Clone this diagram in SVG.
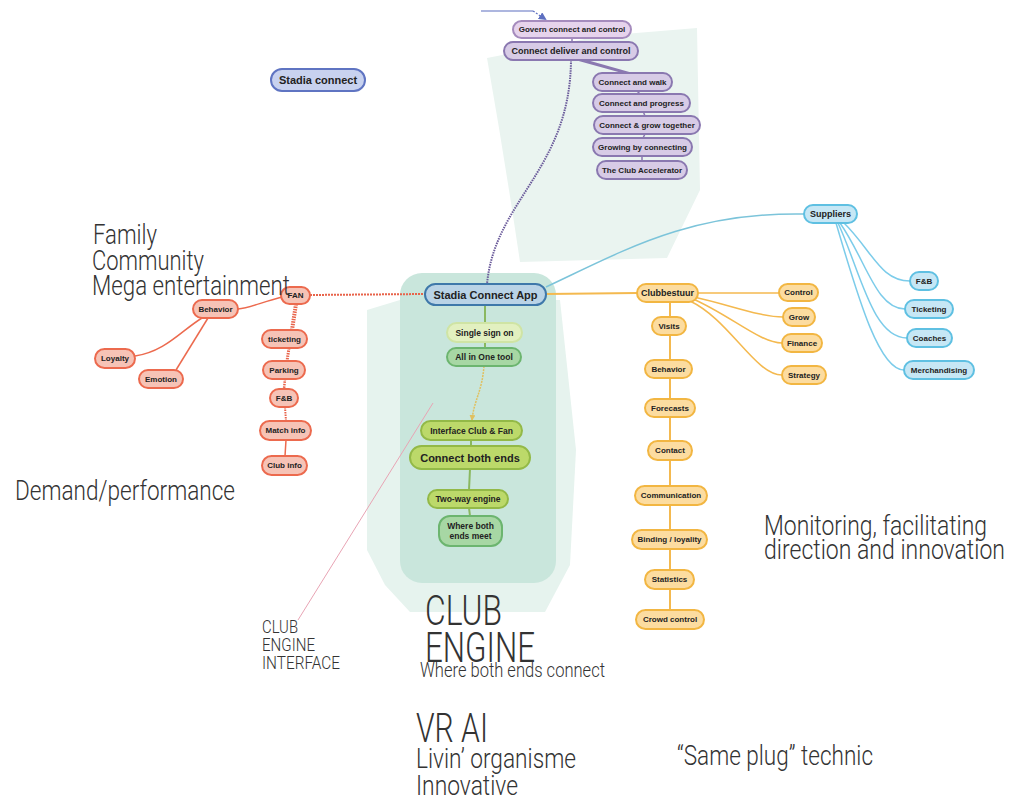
<svg xmlns="http://www.w3.org/2000/svg" width="1024" height="812" viewBox="0 0 1024 812">
<defs>
<marker id="arrY" markerWidth="6" markerHeight="6" refX="5" refY="3" orient="auto" markerUnits="userSpaceOnUse"><path d="M0,0 L6,3 L0,6 Z" fill="#e0c060"/></marker>
<marker id="arrB" markerWidth="8" markerHeight="8" refX="6" refY="4" orient="auto" markerUnits="userSpaceOnUse"><path d="M0,0 L8,4 L0,8 Z" fill="#5d6fc0"/></marker>
</defs>
<style>
.n rect{stroke-width:2}
.n text{font-family:"Liberation Sans",Arial,sans-serif;font-weight:bold;font-size:8.5px;fill:#222;text-anchor:middle;dominant-baseline:central}
.pu rect{fill:#d7cbe6;stroke:#8a78b0}
.pg rect{fill:#e6d3ec;stroke:#a58bbd}
.bl rect{fill:#c8d2ef;stroke:#5f74c2}
.ap rect{fill:#b9d3e6;stroke:#3e78aa}
.ly rect{fill:#e2f0c0;stroke:#cfe4a4}
.gr rect{fill:#a7d7a4;stroke:#6cb56f}
.yg rect{fill:#bcd96a;stroke:#93b947}
.rd rect{fill:#f6c3b6;stroke:#ec6a4e}
.or rect{fill:#fcdca0;stroke:#f2b642}
.lb rect{fill:#c6e7f5;stroke:#5fc0e2}
.lbl{font-family:Roboto,"Liberation Sans",sans-serif;font-weight:300;fill:#333}
.c{fill:none}
</style>
<rect width="1024" height="812" fill="#ffffff"/>
<g id="backgrounds">
<path d="M487,58 L600,36 L697,28 L700,190 L667,258 L520,262 Q505,160 487,58 Z" fill="#eaf4f0"/>
<path d="M367,310 L400,300 L560,300 L576,450 L570,565 L545,612 L410,612 L385,585 L367,550 Z" fill="#e6f3ee"/>
<rect x="400" y="273" width="156" height="310" rx="22" fill="#c9e6dc"/>
</g>
<g id="connectors" class="c">
<path d="M481,11 L533,11" stroke="#5d6fc0" stroke-width="1.2"/>
<path d="M533,11 L545,19" stroke="#5d6fc0" stroke-width="1.2" stroke-dasharray="2,1.5" marker-end="url(#arrB)"/>
<path d="M572,38 L572,42" stroke="#8a78b0" stroke-width="1.5"/>
<path d="M578,60 L625,73 M584,60 L630,73" stroke="#8a78b0" stroke-width="1.5"/>
<path d="M637,91 L640,94 M643,111 L645,116 M645,134 L643,138 M642,156 L642,161" stroke="#8a78b0" stroke-width="1.5"/>
<path d="M571,60 C 570,170 495,200 487,284" stroke="#6a5a9a" stroke-width="2" stroke-dasharray="1.5,1"/>
<path d="M546,287 C 625,250 690,212 804,214" stroke="#7cc4da" stroke-width="1.5"/>
<path d="M546,294 L637,293" stroke="#f4b94f" stroke-width="2"/>
<path d="M310,295 L425,294" stroke="#e8634a" stroke-width="2" stroke-dasharray="2,1"/>
<path d="M282,297 C 262,302 250,308 238,309" stroke="#ec6a4e" stroke-width="1.5"/>
<path d="M202,318 C 182,330 165,352 135,356" stroke="#ec6a4e" stroke-width="1.5"/>
<path d="M208,318 L176,370" stroke="#ec6a4e" stroke-width="1.5"/>
<path d="M296,304 L292,330" stroke="#e8634a" stroke-width="4" stroke-dasharray="1.5,1"/>
<path d="M289,348 L287,361" stroke="#e8634a" stroke-width="3" stroke-dasharray="1.5,1"/>
<path d="M285,379 L284,389" stroke="#e8634a" stroke-width="2.5" stroke-dasharray="1.5,1"/>
<path d="M285,407 L286,421" stroke="#e8634a" stroke-width="2" stroke-dasharray="1.5,1"/>
<path d="M286,440 L285,456" stroke="#ec6a4e" stroke-width="1.5"/>
<path d="M485,305 L485,323 M485,342 L485,348" stroke="#8ab860" stroke-width="2"/>
<path d="M484,366 C 482,392 474,400 472,420" stroke="#e0c060" stroke-width="1.5" stroke-dasharray="2,1" marker-end="url(#arrY)"/>
<path d="M471,440 L471,446 M470,469 L469,490 M469,508 L470,516" stroke="#8ab860" stroke-width="2"/>
<path d="M433,403 L298,620" stroke="#e8a4b4" stroke-width="1"/>
<path d="M698,293 L779,293" stroke="#f4b94f" stroke-width="1.5"/>
<path d="M694,297 C 730,305 760,317 783,317" stroke="#f4b94f" stroke-width="1.5"/>
<path d="M693,299 C 730,315 760,343 782,343" stroke="#f4b94f" stroke-width="1.5"/>
<path d="M690,301 C 730,320 755,375 782,375" stroke="#f4b94f" stroke-width="1.5"/>
<path d="M670,302 L670,610" stroke="#f4b94f" stroke-width="2"/>
<path d="M843,222 C 872,250 880,281 910,281" stroke="#7cccea" stroke-width="1.5"/>
<path d="M840,223 C 866,260 876,309 905,309" stroke="#7cccea" stroke-width="1.5"/>
<path d="M838,223 C 860,270 872,338 907,338" stroke="#7cccea" stroke-width="1.5"/>
<path d="M836,223 C 856,290 878,370 904,370" stroke="#7cccea" stroke-width="1.5"/>
</g>
<g id="n-govern" class="n pg"><rect x="513" y="21" width="118" height="17" rx="8.5"/><text x="572" y="29.5" style="font-size:8px">Govern connect and control</text></g>
<g id="n-deliver" class="n pu"><rect x="504" y="42" width="134" height="18" rx="9"/><text x="571" y="51" style="font-size:9px">Connect deliver and control</text></g>
<g id="n-walk" class="n pu"><rect x="593" y="73" width="79" height="18" rx="9"/><text x="632.5" y="82" style="font-size:8px">Connect and walk</text></g>
<g id="n-progress" class="n pu"><rect x="593" y="94" width="97" height="18" rx="9"/><text x="641.5" y="103" style="font-size:8px">Connect and progress</text></g>
<g id="n-grow-together" class="n pu"><rect x="594" y="116" width="106" height="18" rx="9"/><text x="647" y="125" style="font-size:8px">Connect &amp; grow together</text></g>
<g id="n-growing" class="n pu"><rect x="593" y="138" width="99" height="18" rx="9"/><text x="642.5" y="147" style="font-size:8px">Growing by connecting</text></g>
<g id="n-accelerator" class="n pu"><rect x="597" y="161" width="90" height="18" rx="9"/><text x="642" y="170" style="font-size:8px">The Club Accelerator</text></g>
<g id="n-stadia-connect" class="n bl"><rect x="271" y="69" width="94" height="22" rx="11"/><text x="318" y="80" style="font-size:11px">Stadia connect</text></g>
<g id="n-app" class="n ap"><rect x="425" y="284" width="121" height="21" rx="10.5"/><text x="485.5" y="294.5" style="font-size:11px">Stadia Connect App</text></g>
<g id="n-sso" class="n ly"><rect x="447" y="323" width="75" height="19" rx="9.5"/><text x="484.5" y="332.5">Single sign on</text></g>
<g id="n-aio" class="n gr"><rect x="447" y="348" width="74" height="18" rx="9"/><text x="484" y="357">All in One tool</text></g>
<g id="n-interface" class="n yg"><rect x="421" y="421" width="101" height="19" rx="9.5"/><text x="471.5" y="430.5">Interface Club &amp; Fan</text></g>
<g id="n-both-ends" class="n yg"><rect x="410" y="446" width="120" height="23" rx="11.5"/><text x="470" y="457.5" style="font-size:11px">Connect both ends</text></g>
<g id="n-two-way" class="n yg"><rect x="428" y="490" width="80" height="18" rx="9"/><text x="468" y="499">Two-way engine</text></g>
<g id="n-meet" class="n gr"><rect x="439" y="516" width="63" height="30" rx="11"/><text x="470.5" y="526">Where both</text><text x="470.5" y="536">ends meet</text></g>
<g id="n-fan" class="n rd"><rect x="281" y="287" width="29" height="17" rx="8.5"/><text x="295.5" y="295.5" style="font-size:8px">FAN</text></g>
<g id="n-behavior-fan" class="n rd"><rect x="193" y="300" width="45" height="18" rx="9"/><text x="215.5" y="309" style="font-size:8px">Behavior</text></g>
<g id="n-loyalty" class="n rd"><rect x="95" y="349" width="40" height="19" rx="9.5"/><text x="115" y="358.5" style="font-size:8px">Loyalty</text></g>
<g id="n-emotion" class="n rd"><rect x="139" y="370" width="44" height="18" rx="9"/><text x="161" y="379" style="font-size:8px">Emotion</text></g>
<g id="n-ticketing-fan" class="n rd"><rect x="262" y="330" width="45" height="18" rx="9"/><text x="284.5" y="339" style="font-size:8px">ticketing</text></g>
<g id="n-parking" class="n rd"><rect x="263" y="361" width="42" height="18" rx="9"/><text x="284" y="370" style="font-size:8px">Parking</text></g>
<g id="n-fb-fan" class="n rd"><rect x="270" y="389" width="28" height="18" rx="9"/><text x="284" y="398" style="font-size:8px">F&amp;B</text></g>
<g id="n-match" class="n rd"><rect x="260" y="421" width="51" height="19" rx="9.5"/><text x="285.5" y="430.5" style="font-size:8px">Match info</text></g>
<g id="n-club-info" class="n rd"><rect x="262" y="456" width="45" height="19" rx="9.5"/><text x="284.5" y="465.5" style="font-size:8px">Club info</text></g>
<g id="n-clubbestuur" class="n or"><rect x="637" y="284" width="61" height="18" rx="9"/><text x="667.5" y="293" style="font-size:9px">Clubbestuur</text></g>
<g id="n-control" class="n or"><rect x="779" y="284" width="39" height="17" rx="8.5"/><text x="798.5" y="292.5" style="font-size:8px">Control</text></g>
<g id="n-grow" class="n or"><rect x="783" y="308" width="32" height="18" rx="9"/><text x="799" y="317" style="font-size:8px">Grow</text></g>
<g id="n-finance" class="n or"><rect x="782" y="334" width="40" height="18" rx="9"/><text x="802" y="343" style="font-size:8px">Finance</text></g>
<g id="n-strategy" class="n or"><rect x="782" y="366" width="44" height="18" rx="9"/><text x="804" y="375" style="font-size:8px">Strategy</text></g>
<g id="n-visits" class="n or"><rect x="652" y="317" width="34" height="18" rx="9"/><text x="669" y="326" style="font-size:8px">Visits</text></g>
<g id="n-behavior-club" class="n or"><rect x="645" y="360" width="47" height="18" rx="9"/><text x="668.5" y="369" style="font-size:8px">Behavior</text></g>
<g id="n-forecasts" class="n or"><rect x="645" y="399" width="50" height="18" rx="9"/><text x="670" y="408" style="font-size:8px">Forecasts</text></g>
<g id="n-contact" class="n or"><rect x="648" y="441" width="44" height="19" rx="9.5"/><text x="670" y="450.5" style="font-size:8px">Contact</text></g>
<g id="n-communication" class="n or"><rect x="635" y="486" width="72" height="19" rx="9.5"/><text x="671" y="495.5" style="font-size:8px">Communication</text></g>
<g id="n-binding" class="n or"><rect x="632" y="530" width="75" height="19" rx="9.5"/><text x="669.5" y="539.5" style="font-size:8px">Binding / loyality</text></g>
<g id="n-statistics" class="n or"><rect x="645" y="570" width="49" height="19" rx="9.5"/><text x="669.5" y="579.5" style="font-size:8px">Statistics</text></g>
<g id="n-crowd" class="n or"><rect x="636" y="610" width="68" height="19" rx="9.5"/><text x="670" y="619.5" style="font-size:8px">Crowd control</text></g>
<g id="n-suppliers" class="n lb"><rect x="804" y="205" width="53" height="18" rx="9"/><text x="830.5" y="214" style="font-size:9px">Suppliers</text></g>
<g id="n-fb-sup" class="n lb"><rect x="910" y="272" width="28" height="18" rx="9"/><text x="924" y="281" style="font-size:8px">F&amp;B</text></g>
<g id="n-ticketing-sup" class="n lb"><rect x="905" y="300" width="48" height="18" rx="9"/><text x="929" y="309" style="font-size:8px">Ticketing</text></g>
<g id="n-coaches" class="n lb"><rect x="907" y="329" width="45" height="18" rx="9"/><text x="929.5" y="338" style="font-size:8px">Coaches</text></g>
<g id="n-merch" class="n lb"><rect x="904" y="361" width="70" height="18" rx="9"/><text x="939" y="370" style="font-size:8px">Merchandising</text></g>
<g id="labels">
<text class="lbl" transform="translate(93,244) scale(1,1.3)" font-size="21.5" textLength="64" lengthAdjust="spacingAndGlyphs">Family</text>
<text class="lbl" transform="translate(92,270) scale(1,1.3)" font-size="21.5" textLength="112" lengthAdjust="spacingAndGlyphs">Community</text>
<text class="lbl" transform="translate(92,295) scale(1,1.3)" font-size="21.5" textLength="198" lengthAdjust="spacingAndGlyphs">Mega entertainment</text>
<text class="lbl" transform="translate(15,500) scale(1,1.3)" font-size="21.5" textLength="220" lengthAdjust="spacingAndGlyphs">Demand/performance</text>
<text class="lbl" transform="translate(764,535) scale(1,1.3)" font-size="21.5" textLength="223" lengthAdjust="spacingAndGlyphs">Monitoring, facilitating</text>
<text class="lbl" transform="translate(764,559) scale(1,1.3)" font-size="21.5" textLength="241" lengthAdjust="spacingAndGlyphs">direction and innovation</text>
<text class="lbl" transform="translate(425,625) scale(1,1.3)" font-size="32.3" textLength="77" lengthAdjust="spacingAndGlyphs">CLUB</text>
<text class="lbl" transform="translate(425,662) scale(1,1.3)" font-size="32.3" textLength="110" lengthAdjust="spacingAndGlyphs">ENGINE</text>
<text class="lbl" transform="translate(420,677) scale(1,1.3)" font-size="15.4" textLength="185" lengthAdjust="spacingAndGlyphs">Where both ends connect</text>
<text class="lbl" transform="translate(262,633) scale(1,1.3)" font-size="13.9" textLength="36" lengthAdjust="spacingAndGlyphs">CLUB</text>
<text class="lbl" transform="translate(262,651) scale(1,1.3)" font-size="13.9" textLength="53" lengthAdjust="spacingAndGlyphs">ENGINE</text>
<text class="lbl" transform="translate(262,669) scale(1,1.3)" font-size="13.9" textLength="78" lengthAdjust="spacingAndGlyphs">INTERFACE</text>
<text class="lbl" transform="translate(416,742) scale(1,1.3)" font-size="31.6" textLength="72" lengthAdjust="spacingAndGlyphs">VR AI</text>
<text class="lbl" transform="translate(416,768) scale(1,1.3)" font-size="21.5" textLength="160" lengthAdjust="spacingAndGlyphs">Livin’ organisme</text>
<text class="lbl" transform="translate(416,795) scale(1,1.3)" font-size="21.5" textLength="102" lengthAdjust="spacingAndGlyphs">Innovative</text>
<text class="lbl" transform="translate(677,765) scale(1,1.3)" font-size="21.5" textLength="196" lengthAdjust="spacingAndGlyphs">“Same plug” technic</text>
</g>
</svg>
